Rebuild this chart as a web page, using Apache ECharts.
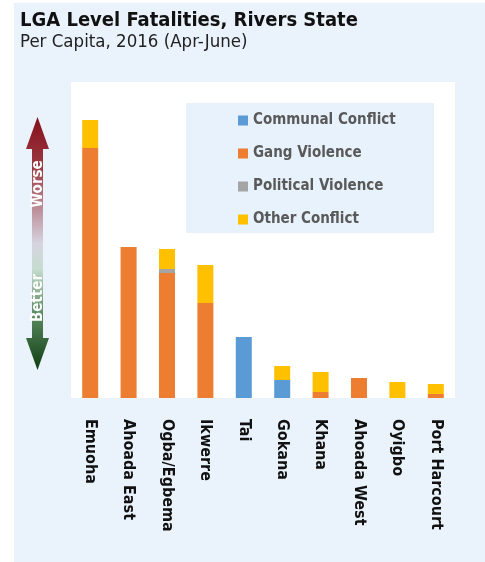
<!DOCTYPE html>
<html>
<head>
<meta charset="utf-8">
<script src="https://cdn.jsdelivr.net/npm/echarts@6/dist/echarts.min.js"></script>
<style>
  html, body { margin: 0; padding: 0; background: #fff; }
  #chart { width: 485px; height: 562px; }
</style>
</head>
<body>
<div id="chart"></div>
<script>
// values (relative per-capita units)
const categories = ['Emuoha', 'Ahoada East', 'Ogba/Egbema', 'Ikwerre', 'Tai', 'Gokana', 'Khana', 'Ahoada West', 'Oyigbo', 'Port Harcourt']
const communal = [0, 0, 0, 0, 6.1, 1.8, 0, 0, 0, 0]
const gang = [25.0, 15.1, 12.5, 9.5, 0, 0, 0.6, 2.0, 0, 0.4]
const political = [0, 0, 0.4, 0, 0, 0, 0, 0, 0, 0]
const other = [2.8, 0, 2.0, 3.8, 0, 1.4, 2.0, 0, 1.6, 1.0]

const seriesNames = ['Communal Conflict', 'Gang Violence', 'Political Violence', 'Other Conflict']
const seriesColors = ['#5B9BD5', '#ED7D31', '#A5A5A5', '#FFC000']
const seriesData = [communal, gang, political, other]

const condensed = '"Liberation Sans Narrow", "DejaVu Sans Condensed", Roboto, sans-serif'

const chart = echarts.init(document.getElementById('chart'))

const option = {
  animation: false,
  title: [
    {
      text: 'LGA Level Fatalities, Rivers State',
      left: 20,
      top: 11,
      padding: 0,
      textStyle: { fontFamily: condensed, fontSize: 20, fontWeight: 'bold', color: '#111' }
    },
    {
      text: 'Per Capita, 2016 (Apr-June)',
      left: 20,
      top: 33,
      padding: 0,
      textStyle: { fontFamily: condensed, fontSize: 18.5, fontWeight: 'normal', color: '#222' }
    }
  ],
  graphic: [
    {
      type: 'rect',
      z: -10,
      shape: { x: 14, y: 3, width: 471, height: 559 },
      style: { fill: '#EAF3FC' }
    },
    {
      type: 'rect',
      z: 3,
      shape: { x: 186, y: 103, width: 248, height: 130 },
      style: { fill: '#E8F2FC' }
    },
    {
      type: 'polygon',
      z: 5,
      shape: {
        points: [
          [37.5, 117], [49, 149], [43, 149], [43, 338], [49, 338],
          [37.5, 370], [26, 338], [32, 338], [32, 149], [26, 149]
        ]
      },
      style: {
        fill: new echarts.graphic.LinearGradient(0, 0, 0, 1, [
          { offset: 0, color: '#84101a' },
          { offset: 0.2, color: '#9c3a44' },
          { offset: 0.5, color: '#d6d4e0' },
          { offset: 0.6, color: '#c6dccf' },
          { offset: 0.78, color: '#5a8a60' },
          { offset: 1, color: '#0f3d12' }
        ])
      }
    },
    {
      type: 'text',
      z: 6,
      x: 38,
      y: 184,
      rotation: Math.PI / 2,
      style: {
        text: 'Worse',
        fill: '#fff',
        font: 'bold 15px ' + condensed,
        align: 'center',
        verticalAlign: 'middle'
      }
    },
    {
      type: 'text',
      z: 6,
      x: 38,
      y: 298,
      rotation: Math.PI / 2,
      style: {
        text: 'Better',
        fill: '#fff',
        font: 'bold 15px ' + condensed,
        align: 'center',
        verticalAlign: 'middle'
      }
    }
  ],
  legend: {
    orient: 'vertical',
    left: 238,
    top: 113,
    padding: 0,
    itemWidth: 10,
    itemHeight: 10,
    itemGap: 18,
    icon: 'rect',
    data: seriesNames,
    textStyle: {
      fontFamily: condensed,
      fontSize: 15,
      fontWeight: 'bold',
      color: '#595959',
      lineHeight: 14
    }
  },
  grid: {
    left: 71,
    right: 30,
    top: 82,
    bottom: 164,
    show: true,
    backgroundColor: '#fff',
    borderWidth: 0
  },
  xAxis: {
    type: 'category',
    data: categories,
    axisLine: { show: false },
    axisTick: { show: false },
    axisLabel: {
      rotate: -90,
      margin: 21,
      interval: 0,
      fontFamily: condensed,
      fontSize: 16,
      fontWeight: 'bold',
      color: '#111'
    }
  },
  yAxis: {
    type: 'value',
    min: 0,
    max: 31.6,
    show: false,
    splitLine: { show: false }
  },
  series: seriesNames.map((name, i) => ({
    name,
    type: 'bar',
    stack: 'total',
    barWidth: 16,
    data: seriesData[i],
    itemStyle: { color: seriesColors[i] }
  }))
}

chart.setOption(option)
</script>
</body>
</html>
